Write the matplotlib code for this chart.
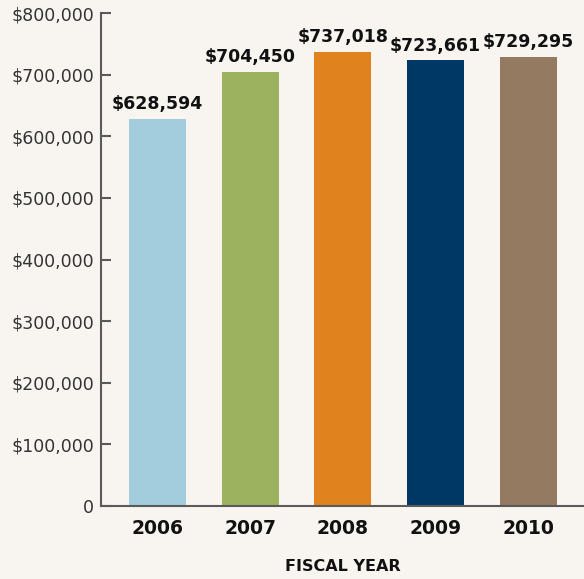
import matplotlib.pyplot as plt
import matplotlib.ticker as mticker

years = ['2006', '2007', '2008', '2009', '2010']
values = [628594, 704450, 737018, 723661, 729295]
colors = ['#a3cddc', '#9cb25f', '#e0821e', '#003865', '#957a62']
bg = '#f8f5f1'

fig = plt.figure(figsize=(5.84, 5.79), dpi=100, facecolor=bg)
ax = fig.add_axes([0.173, 0.126, 0.827, 0.8515], facecolor=bg)

x = range(len(years))
ax.bar(x, values, width=0.615, color=colors, zorder=2)

for i, v in zip(x, values):
    ax.text(i, v + 9000, '${:,}'.format(v), ha='center', va='bottom',
            fontsize=12.5, fontweight='bold', color='#111111')

ax.set_xlim(-0.61, 4.6)
ax.set_ylim(0, 800000)
ax.set_yticks(range(0, 800001, 100000))
ax.yaxis.set_major_formatter(mticker.FuncFormatter(
    lambda v, p: '0' if v == 0 else '${:,.0f}'.format(v)))
ax.set_xticks(list(x))
ax.set_xticklabels(years, fontsize=13.5, fontweight='bold', color='#111111')

for s in ['top', 'right']:
    ax.spines[s].set_visible(False)
for s in ['left', 'bottom']:
    ax.spines[s].set_color('#5a5a5a')
    ax.spines[s].set_linewidth(1.5)

ax.tick_params(axis='y', direction='in', length=7, width=1.5, color='#5a5a5a',
               labelsize=12.5, labelcolor='#333333', pad=5)
ax.tick_params(axis='x', length=0, pad=9)

ax.set_xlabel('FISCAL YEAR', fontsize=11.5, fontweight='bold', color='#111111')
ax.xaxis.set_label_coords((342.5 - 101) / 483, -0.107)

fig.savefig('out.png', dpi=100, facecolor=bg)
